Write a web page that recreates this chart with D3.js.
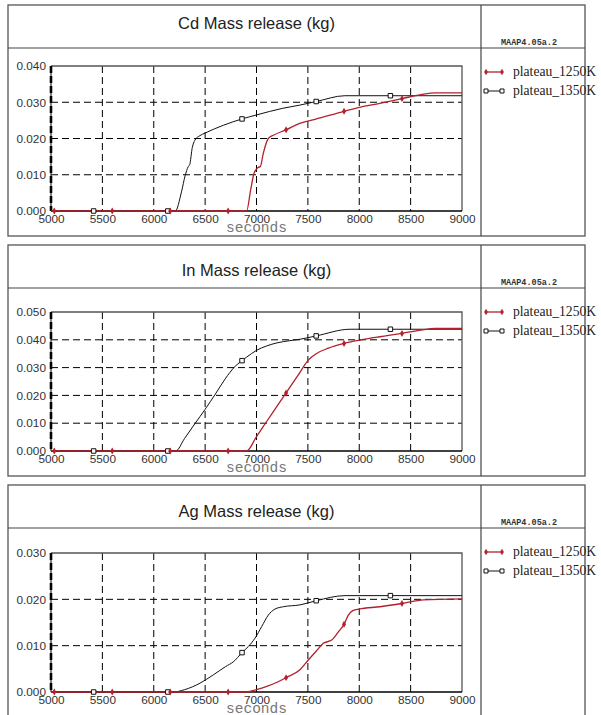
<!DOCTYPE html>
<html lang="en">
<head>
<meta charset="utf-8">
<title>MAAP4 mass release</title>
<script src="https://cdn.jsdelivr.net/npm/d3@7"></script>
<style>
  body { margin: 0; background: #fff; }
  svg { display: block; }
  .tick text { font-family: "Liberation Sans", Arial, sans-serif; font-size: 11.8px; fill: #333; }
</style>
</head>
<body>
<div id="chart"></div>
<script>
// ---- data (seconds, kg) ----
var timeTicks = [5000, 5500, 6000, 6500, 7000, 7500, 8000, 8500, 9000];
var cdTicks = [0, 0.01, 0.02, 0.03, 0.04];
var inTicks = [0, 0.01, 0.02, 0.03, 0.04, 0.05];
var agTicks = [0, 0.01, 0.02, 0.03];

var seriesNames = ["plateau_1250K", "plateau_1350K"];
var marks1250 = [5032, 5596, 6160, 6724, 7288, 7852, 8416];
var marks1350 = [5415, 6137, 6859, 7581, 8303];

var cd1250 = [[5000,0],[6904,0],[6943,0.0058],[6976,0.0104],[7015,0.0120],[7038,0.0123],[7066,0.0159],[7115,0.0200],[7164,0.0209],
  [7288,0.0224],[7420,0.0242],[7570,0.0253],[7852,0.0275],[8000,0.0286],[8200,0.0297],[8416,0.0310],[8600,0.0321],[8740,0.0326],[9000,0.0326]];
var cd1350 = [[5000,0],[6210,0],[6270,0.0053],[6305,0.0097],[6335,0.0122],[6350,0.0128],[6375,0.0175],[6400,0.0195],[6450,0.0208],
  [6500,0.0215],[6859,0.0254],[7000,0.0265],[7250,0.0283],[7420,0.0292],[7581,0.0302],[7860,0.0318],[9000,0.0318]];

var in1250 = [[5000,0],[6904,0],[7000,0.0052],[7100,0.0107],[7200,0.0161],[7288,0.0209],[7400,0.0270],[7504,0.0327],[7585,0.0351],
  [7700,0.0370],[7852,0.0387],[8007,0.0399],[8200,0.0411],[8416,0.0423],[8600,0.0435],[8737,0.0441],[9000,0.0441]];
var in1350 = [[5000,0],[6214,0],[6300,0.0045],[6400,0.0098],[6500,0.0150],[6600,0.0205],[6700,0.0262],[6780,0.0300],[6859,0.0325],
  [6950,0.0350],[7000,0.0362],[7100,0.0378],[7200,0.0389],[7326,0.0397],[7423,0.0402],[7581,0.0414],[7910,0.0438],[9000,0.0438]];

var ag1250 = [[5000,0],[6904,0],[7000,0.0005],[7100,0.0012],[7200,0.0021],[7288,0.0031],[7423,0.0048],[7504,0.0069],[7580,0.0088],
  [7650,0.0105],[7731,0.0112],[7800,0.0131],[7852,0.0146],[7894,0.0166],[7942,0.0176],[7997,0.0179],[8202,0.0184],[8416,0.0191],
  [8624,0.0199],[9000,0.0201]];
var ag1350 = [[5000,0],[6190,0],[6300,0.0005],[6450,0.0019],[6580,0.0037],[6700,0.0055],[6774,0.0065],[6859,0.0085],[6920,0.0098],
  [6985,0.0116],[7050,0.0141],[7115,0.0166],[7180,0.0179],[7261,0.0184],[7423,0.0188],[7581,0.0197],[7861,0.0208],[9000,0.0208]];

// ---- layout ----
var W = 601, H = 715;
var left = 8, right = 585, divider = 481;
var plotL = 51, plotR = 462;
var red = "#b3202c";

var panels = [
  { title: "Cd Mass release (kg)", top: 5, sep: 48, bottom: 236, pTop: 66, pBot: 211, titleY: 29, ticks: cdTicks, a: cd1250, b: cd1350 },
  { title: "In Mass release (kg)", top: 245, sep: 288, bottom: 476, pTop: 312, pBot: 451, titleY: 276, ticks: inTicks, a: in1250, b: in1350 },
  { title: "Ag Mass release (kg)", top: 485, sep: 528, bottom: 740, pTop: 553, pBot: 692, titleY: 517, ticks: agTicks, a: ag1250, b: ag1350 }
];

var svg = d3.select("#chart").append("svg").attr("width", W).attr("height", H);

var x = d3.scaleLinear().domain([5000, 9000]).range([plotL, plotR]);

function valueAt(series, t) {
  var i = d3.bisector(function (d) { return d[0]; }).left(series, t);
  if (i <= 0) return series[0][1];
  if (i >= series.length) return series[series.length - 1][1];
  var p0 = series[i - 1], p1 = series[i];
  return p0[1] + (p1[1] - p0[1]) * (t - p0[0]) / (p1[0] - p0[0]);
}

panels.forEach(function (p) {
  var g = svg.append("g");
  var y = d3.scaleLinear().domain([0, d3.max(p.ticks)]).range([p.pBot, p.pTop]);

  // panel frame
  g.append("rect").attr("x", left).attr("y", p.top)
    .attr("width", right - left).attr("height", p.bottom - p.top)
    .attr("fill", "none").attr("stroke", "#555").attr("stroke-width", 1.3);
  g.append("line").attr("x1", left).attr("x2", right).attr("y1", p.sep).attr("y2", p.sep)
    .attr("stroke", "#444").attr("stroke-width", 1.2);
  g.append("line").attr("x1", divider).attr("x2", divider).attr("y1", p.top).attr("y2", p.bottom)
    .attr("stroke", "#444").attr("stroke-width", 1.2);

  // title
  g.append("text").attr("x", (plotL + plotR) / 2).attr("y", p.titleY)
    .attr("text-anchor", "middle")
    .style("font-family", "'Liberation Sans', Arial, sans-serif")
    .style("font-size", "16.5px").attr("fill", "#222")
    .text(p.title);

  g.append("text").attr("x", 529).attr("y", p.sep - 3)
    .attr("text-anchor", "middle")
    .style("font-family", "'Liberation Mono', 'DejaVu Sans Mono', monospace")
    .style("font-size", "8.5px").style("font-weight", "bold").attr("fill", "#333")
    .text("MAAP4.05a.2");

  // grid
  g.append("g").selectAll("line").data(timeTicks.slice(1, -1)).join("line")
    .attr("x1", x).attr("x2", x).attr("y1", p.pTop).attr("y2", p.pBot)
    .attr("stroke", "#000").attr("stroke-dasharray", "7,4");
  g.append("g").selectAll("line").data(p.ticks.slice(1, -1)).join("line")
    .attr("x1", plotL).attr("x2", plotR).attr("y1", y).attr("y2", y)
    .attr("stroke", "#000").attr("stroke-dasharray", "7,4");

  // plot frame
  g.append("path")
    .attr("d", "M" + plotL + "," + p.pTop + "H" + plotR + "V" + p.pBot)
    .attr("fill", "none").attr("stroke", "#555").attr("stroke-width", 1.3);

  // axes (labels only)
  var ya = g.append("g").attr("transform", "translate(" + plotL + ",0)")
    .call(d3.axisLeft(y).tickValues(p.ticks).tickSize(0).tickPadding(5).tickFormat(d3.format(".3f")));
  ya.select(".domain").remove();
  var xa = g.append("g").attr("transform", "translate(0," + p.pBot + ")")
    .call(d3.axisBottom(x).tickValues(timeTicks).tickSize(0).tickPadding(4).tickFormat(d3.format("d")));
  xa.select(".domain").remove();

  g.append("line").attr("x1", plotL).attr("x2", plotR).attr("y1", p.pBot).attr("y2", p.pBot)
    .attr("stroke", "#000").attr("stroke-width", 1.6);
  g.append("line").attr("x1", plotL).attr("x2", plotL).attr("y1", p.pTop).attr("y2", p.pBot)
    .attr("stroke", "#000").attr("stroke-width", 1);
  g.append("line").attr("x1", plotL).attr("x2", plotL).attr("y1", p.pTop).attr("y2", p.pBot)
    .attr("stroke", "#000").attr("stroke-width", 2.6).attr("stroke-dasharray", "7,3");

  g.append("text").attr("x", (plotL + plotR) / 2).attr("y", p.pBot + 21)
    .attr("text-anchor", "middle")
    .style("font-family", "'Liberation Mono', 'DejaVu Sans Mono', monospace")
    .style("font-size", "14.5px").attr("fill", "#777")
    .text("seconds");

  // lines
  var line = d3.line().x(function (d) { return x(d[0]); }).y(function (d) { return y(d[1]); })
    .curve(d3.curveMonotoneX);
  g.append("path").datum(p.b).attr("d", line)
    .attr("fill", "none").attr("stroke", "#111").attr("stroke-width", 1);
  g.append("path").datum(p.a).attr("d", line)
    .attr("fill", "none").attr("stroke", red).attr("stroke-width", 1.3);

  // markers
  g.append("g").selectAll("path").data(marks1350).join("path")
    .attr("d", d3.symbol(d3.symbolSquare, 20))
    .attr("transform", function (t) { return "translate(" + x(t) + "," + y(valueAt(p.b, t)) + ")"; })
    .attr("fill", "#fff").attr("stroke", "#111").attr("stroke-width", 1);
  g.append("g").selectAll("path").data(marks1250).join("path")
    .attr("d", d3.symbol(d3.symbolDiamond, 14))
    .attr("transform", function (t) { return "translate(" + x(t) + "," + y(valueAt(p.a, t)) + ")"; })
    .attr("fill", red);

  // legend
  var lg = g.append("g");
  seriesNames.forEach(function (name, i) {
    var ly = p.sep + 24 + i * 19;
    var col = i === 0 ? red : "#111";
    lg.append("line").attr("x1", 486).attr("x2", 502).attr("y1", ly).attr("y2", ly)
      .attr("stroke", col).attr("stroke-width", i === 0 ? 1.3 : 1);
    [486, 502].forEach(function (mx) {
      lg.append("path")
        .attr("d", d3.symbol(i === 0 ? d3.symbolDiamond : d3.symbolSquare, i === 0 ? 12 : 16))
        .attr("transform", "translate(" + mx + "," + ly + ")")
        .attr("fill", i === 0 ? red : "#fff").attr("stroke", i === 0 ? "none" : "#111");
    });
    lg.append("text").attr("x", 513).attr("y", ly + 4)
      .style("font-family", "'Liberation Serif', 'Times New Roman', serif")
      .style("font-size", "13.6px").attr("fill", "#222")
      .text(name);
  });
});
</script>
</body>
</html>
